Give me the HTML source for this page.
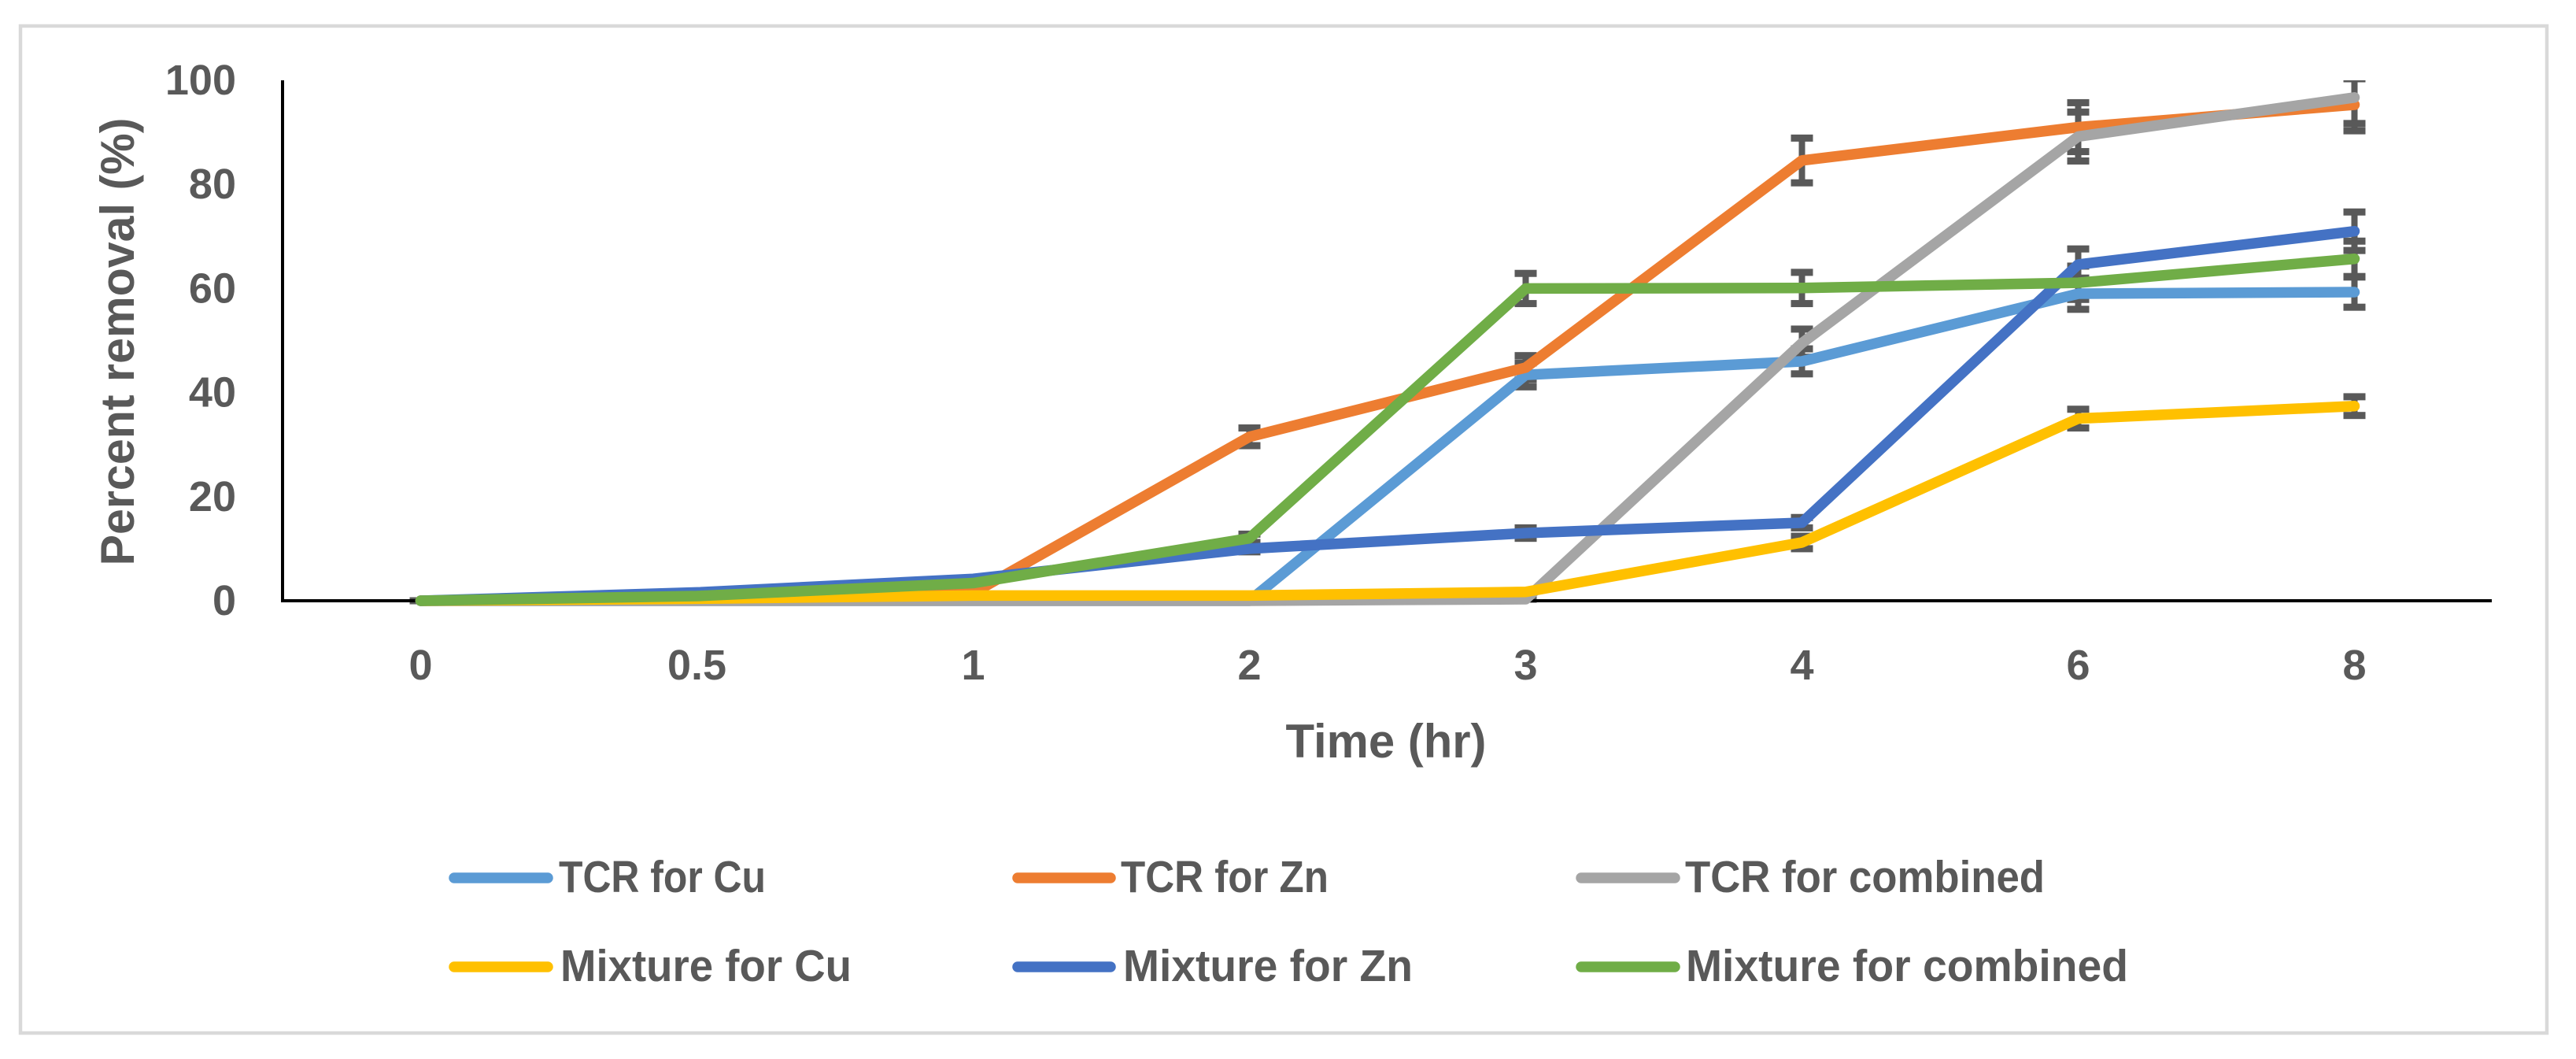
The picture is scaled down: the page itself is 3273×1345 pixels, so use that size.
<!DOCTYPE html>
<html lang="en">
<head>
<meta charset="utf-8">
<title>Percent removal over time</title>
<style>
html,body{margin:0;padding:0;background:#fff;}
svg{display:block;}
text{font-family:"Liberation Sans",sans-serif;font-weight:700;fill:#595959;}
</style>
</head>
<body>
<svg id="chart" xmlns="http://www.w3.org/2000/svg" width="3273" height="1345" viewBox="0 0 3273 1345">
  <defs>
    <clipPath id="plot-clip"><rect x="359" y="102" width="2807" height="700"/></clipPath>
  </defs>
  <rect x="26" y="33" width="3210" height="1279" fill="#ffffff" stroke="#d9d9d9" stroke-width="4.5"/>
  <g id="y-ticks"></g>
  <g id="x-ticks"></g>
  <text transform="translate(170,434) rotate(-90)" text-anchor="middle" font-size="60" textLength="569" lengthAdjust="spacingAndGlyphs">Percent removal (%)</text>
  <text x="1761" y="962" text-anchor="middle" font-size="60" textLength="255" lengthAdjust="spacingAndGlyphs">Time (hr)</text>
  <g id="error-bars" clip-path="url(#plot-clip)"></g>
  <line x1="359" y1="102" x2="359" y2="765" stroke="#000000" stroke-width="4"/>
  <line x1="357" y1="763" x2="3166" y2="763" stroke="#000000" stroke-width="4"/>
  <g id="series-lines"></g>

  <g>
    <g>
      <line x1="577" y1="1115" x2="696" y2="1115" stroke="#5b9bd5" stroke-width="13.5" stroke-linecap="round"/>
      <text x="710" y="1133" font-size="57" textLength="263" lengthAdjust="spacingAndGlyphs">TCR for Cu</text>
    </g>
    <g>
      <line x1="1293" y1="1115" x2="1411" y2="1115" stroke="#ed7d31" stroke-width="13.5" stroke-linecap="round"/>
      <text x="1424" y="1133" font-size="57" textLength="264" lengthAdjust="spacingAndGlyphs">TCR for Zn</text>
    </g>
    <g>
      <line x1="2009" y1="1115" x2="2128" y2="1115" stroke="#a5a5a5" stroke-width="13.5" stroke-linecap="round"/>
      <text x="2141" y="1133" font-size="57" textLength="457" lengthAdjust="spacingAndGlyphs">TCR for combined</text>
    </g>
    <g>
      <line x1="577" y1="1228" x2="696" y2="1228" stroke="#ffc000" stroke-width="13.5" stroke-linecap="round"/>
      <text x="712" y="1246" font-size="57" textLength="370" lengthAdjust="spacingAndGlyphs">Mixture for Cu</text>
    </g>
    <g>
      <line x1="1293" y1="1228" x2="1411" y2="1228" stroke="#4472c4" stroke-width="13.5" stroke-linecap="round"/>
      <text x="1427" y="1246" font-size="57" textLength="368" lengthAdjust="spacingAndGlyphs">Mixture for Zn</text>
    </g>
    <g>
      <line x1="2009" y1="1228" x2="2128" y2="1228" stroke="#70ad47" stroke-width="13.5" stroke-linecap="round"/>
      <text x="2142" y="1246" font-size="57" textLength="562" lengthAdjust="spacingAndGlyphs">Mixture for combined</text>
    </g>
  </g>
</svg>
<script>
var categories = ["0", "0.5", "1", "2", "3", "4", "6", "8"];
var yTickLabels = [0, 20, 40, 60, 80, 100];

var tcrCu = [0, 0, 0, 0, 43.4, 46, 59, 59.3];
var tcrZn = [0, 0.4, 1.5, 31.5, 44.8, 84.6, 91, 95.3];
var tcrCombined = [0, 0, 0, 0, 0.3, 49.5, 89.2, 96.7];
var mixtureCu = [0, 0.4, 1, 1, 1.7, 11.2, 35, 37.4];
var mixtureZn = [0, 1.6, 4.2, 10, 13, 15, 64.6, 71];
var mixtureCombined = [0, 0.9, 3.4, 12, 60, 60.1, 61.1, 65.7];

var tcrCuError = [0, 0, 0, 0, 2.3, 2.4, 3, 2.9];
var tcrZnError = [0, 0, 0, 1.7, 2.3, 4.3, 4.7, 5];
var tcrCombinedError = [0, 0, 0, 0, 0, 2.7, 4.7, 5];
var mixtureCuError = [0, 0, 0, 0, 0, 1.2, 1.8, 1.8];
var mixtureZnError = [0, 0, 0, 0.6, 1, 1, 3, 3.7];
var mixtureCombinedError = [0, 0, 0, 0.8, 2.9, 3, 3.2, 3.4];

var svgNS = "http://www.w3.org/2000/svg";
var plotLeft = 359;
var bandWidth = 351;
var yZero = 763;
var yHundred = 102;

function xScale(index) {
  return plotLeft + bandWidth * (index + 0.5);
}
function yScale(value) {
  return yZero - (yZero - yHundred) * value / 100;
}

var seriesDefs = [
  { key: "tcr-cu", values: tcrCu, errors: tcrCuError, color: "#5b9bd5" },
  { key: "tcr-zn", values: tcrZn, errors: tcrZnError, color: "#ed7d31" },
  { key: "tcr-combined", values: tcrCombined, errors: tcrCombinedError, color: "#a5a5a5" },
  { key: "mixture-cu", values: mixtureCu, errors: mixtureCuError, color: "#ffc000" },
  { key: "mixture-zn", values: mixtureZn, errors: mixtureZnError, color: "#4472c4" },
  { key: "mixture-combined", values: mixtureCombined, errors: mixtureCombinedError, color: "#70ad47" }
];

var yTicksGroup = document.getElementById("y-ticks");
yTickLabels.forEach(function (tick) {
  var label = document.createElementNS(svgNS, "text");
  
  
  label.setAttribute("x", 300);
  label.setAttribute("y", yScale(tick) + 18);
  label.setAttribute("text-anchor", "end");
  label.setAttribute("font-size", "54");
  label.textContent = tick;
  yTicksGroup.appendChild(label);
});

var xTicksGroup = document.getElementById("x-ticks");
categories.forEach(function (category, index) {
  var label = document.createElementNS(svgNS, "text");
  
  
  label.setAttribute("x", xScale(index));
  label.setAttribute("y", 863);
  label.setAttribute("text-anchor", "middle");
  label.setAttribute("font-size", "54");
  label.textContent = category;
  xTicksGroup.appendChild(label);
});

var errorGroup = document.getElementById("error-bars");
var capHalfWidth = 14;
var capHeight = 9;
var errorColor = "#595959";

function drawErrorRect(name, x, y, width, height) {
  var rect = document.createElementNS(svgNS, "rect");
  
  
  rect.setAttribute("x", x);
  rect.setAttribute("y", y);
  rect.setAttribute("width", width);
  rect.setAttribute("height", height);
  rect.setAttribute("fill", errorColor);
  errorGroup.appendChild(rect);
}

seriesDefs.forEach(function (series) {
  series.values.forEach(function (value, index) {
    var cx = xScale(index);
    var top = yScale(value + series.errors[index]);
    var bottom = yScale(value - series.errors[index]);
    drawErrorRect("error-stem-" + series.key, cx - 4, top, 8, bottom - top);
    drawErrorRect("error-cap-upper-" + series.key, cx - capHalfWidth, top - capHeight / 2, capHalfWidth * 2, capHeight);
    drawErrorRect("error-cap-lower-" + series.key, cx - capHalfWidth, bottom - capHeight / 2, capHalfWidth * 2, capHeight);
  });
});

var linesGroup = document.getElementById("series-lines");
seriesDefs.forEach(function (series) {
  var path = document.createElementNS(svgNS, "path");
  
  
  var d = series.values.map(function (value, index) {
    return (index === 0 ? "M" : "L") + xScale(index) + " " + yScale(value);
  }).join(" ");
  path.setAttribute("d", d);
  path.setAttribute("fill", "none");
  path.setAttribute("stroke", series.color);
  path.setAttribute("stroke-width", "13.5");
  path.setAttribute("stroke-linecap", "round");
  path.setAttribute("stroke-linejoin", "round");
  linesGroup.appendChild(path);
});
</script>
</body>
</html>
